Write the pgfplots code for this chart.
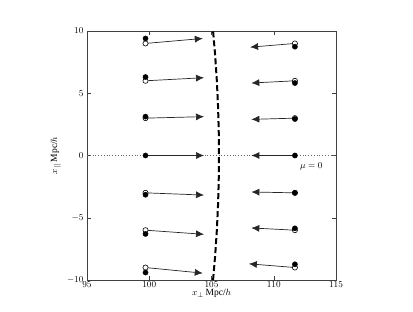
\documentclass[border=0pt]{standalone}
\usepackage{pgfplots}
\pgfplotsset{compat=1.18}
\usetikzlibrary{arrows.meta}
\usepackage{fontspec}
\setmainfont{Liberation Serif}
\begin{document}
\begin{tikzpicture}
\useasboundingbox (-87pt,-32pt) rectangle (326pt,280pt);
\begin{axis}[
  at={(0,0)}, anchor=south west,
  scale only axis, width=249pt, height=249pt,
  xmin=95, xmax=115, ymin=-10, ymax=10,
  xtick={95,100,105,110,115}, ytick={-10,-5,0,5,10},
  tick align=inside, major tick length=4pt,
  xtick pos=both, ytick pos=both,
  axis line style={black!75, line width=0.6pt},
  tick style={black!75},
  tick label style={font=\fontsize{9.5}{11}\selectfont},
  xticklabel style={yshift=1.5pt},
  xlabel={$x_\perp$\,Mpc/$h$}, ylabel={$x_{||}$\,Mpc/$h$},
  label style={font=\fontsize{9.5}{11}\selectfont},
  xlabel style={at={(axis description cs:0.5,-0.054)}, anchor=center},
  ylabel style={at={(axis description cs:-0.125,0.5)}, anchor=center},
  clip=false,
]
% dotted mu=0 line
\addplot[black!60, dotted, line width=0.8pt] coordinates {(95,0) (115,0)};
% dashed circle arc
\addplot[black, line width=2pt, dash pattern=on 6pt off 3pt] coordinates {
(105.126,-10) (105.297,-8) (105.429,-6) (105.524,-4) (105.581,-2) (105.6,0)
(105.581,2) (105.524,4) (105.429,6) (105.297,8) (105.126,10)};
% arrows left
\pgfplotsset{arr/.style={black!85, line width=0.7pt, -{Latex[length=8pt,width=7pt]}}}
\addplot[arr] coordinates {(99.7,9.0) (104.3,9.4)};
\addplot[arr] coordinates {(99.7,6.0) (104.4,6.25)};
\addplot[arr] coordinates {(99.7,3.0) (104.4,3.12)};
\addplot[arr] coordinates {(99.7,0.0) (104.4,0.0)};
\addplot[arr] coordinates {(99.7,-3.0) (104.4,-3.18)};
\addplot[arr] coordinates {(99.7,-6.0) (104.4,-6.33)};
\addplot[arr] coordinates {(99.7,-9.0) (104.3,-9.45)};
% arrows right
\addplot[arr] coordinates {(111.7,9.0) (108.1,8.7)};
\addplot[arr] coordinates {(111.7,6.0) (108.2,5.82)};
\addplot[arr] coordinates {(111.7,3.0) (108.2,2.9)};
\addplot[arr] coordinates {(111.7,0.0) (108.2,0.0)};
\addplot[arr] coordinates {(111.7,-3.0) (108.2,-2.93)};
\addplot[arr] coordinates {(111.7,-6.0) (108.2,-5.82)};
\addplot[arr] coordinates {(111.7,-9.0) (108.0,-8.7)};
% open circles
\addplot[only marks, mark=*, mark size=2.6pt, mark options={fill=white, draw=black, line width=0.6pt}] coordinates {
(99.7,9) (99.7,6) (99.7,3) (99.7,-3) (99.7,-6) (99.7,-9)
(111.7,9) (111.7,6) (111.7,3) (111.7,-3) (111.7,-6) (111.7,-9)};
% filled circles
\addplot[only marks, mark=*, mark size=2.6pt, mark options={fill=black, draw=black}] coordinates {
(99.7,9.4) (99.7,6.3) (99.7,3.12) (99.7,0) (99.7,-3.15) (99.7,-6.3) (99.7,-9.4)
(111.7,8.74) (111.7,5.82) (111.7,2.93) (111.7,0) (111.7,-3.0) (111.7,-5.85) (111.7,-8.74)};
\node[anchor=west, font=\fontsize{9.5}{11}\selectfont, inner sep=0pt] at (axis cs:112.1,-0.85) {$\mu=0$};
\end{axis}
\end{tikzpicture}
\end{document}
